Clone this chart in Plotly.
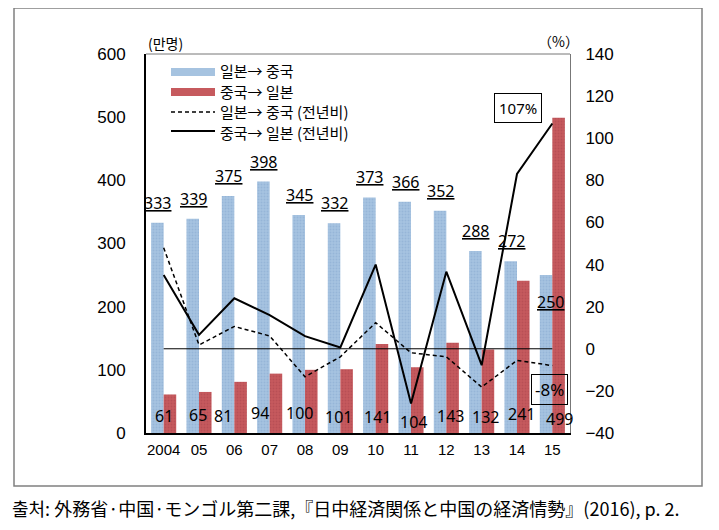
import plotly.graph_objects as go

years = ["2004", "05", "06", "07", "08", "09", "10", "11", "12", "13", "14", "15"]
jp_to_cn = [333, 339, 375, 398, 345, 332, 373, 366, 352, 288, 272, 250]
cn_to_jp = [61, 65, 81, 94, 100, 101, 141, 104, 143, 132, 241, 499]
jp_to_cn_yoy = [48.0, 1.8, 10.6, 6.1, -13.3, -3.8, 12.4, -1.9, -3.8, -18.2, -5.5, -8.0]
cn_to_jp_yoy = [35.0, 6.6, 24.0, 16.0, 6.0, 0.6, 40.0, -26.0, 36.6, -7.8, 83.0, 107.0]
zero_ref = [0] * len(years)

legend_labels = ["일본→ 중국", "중국→ 일본", "일본→ 중국 (전년비)", "중국→ 일본 (전년비)"]
unit_left = "(만명)"
unit_right = "（%）"
box_hi = "107%"
box_lo = "-8%"
source_text = "출처: 外務省·中国·モンゴル第二課,『日中経済関係と中国の経済情勢』(2016), p. 2."

# page body has an 8px default margin; figure is sized to fit the 719x530 window
OFF = 8
W, H = 719 - 2 * OFF, 530 - 2 * OFF
# plot area in page pixels
L, R, T, B = 146, 570, 54, 433
def px(xp):
    return (xp - L) / (R - L)
def py(yp):
    return (B - yp) / (B - T)

BLUE_BG, BLUE_FG = "#a6c3e0", "#86a8d0"
RED_BG, RED_FG = "#c65a5e", "#a9434b"

fig = go.Figure()
fig.add_trace(go.Bar(x=years, y=jp_to_cn, name=legend_labels[0],
                     marker=dict(color=BLUE_BG, line=dict(width=0),
                                 pattern=dict(shape=".", fgcolor=BLUE_FG, bgcolor=BLUE_BG, size=3, solidity=0.35)),
                     yaxis="y"))
fig.add_trace(go.Bar(x=years, y=cn_to_jp, name=legend_labels[1],
                     marker=dict(color=RED_BG, line=dict(width=0),
                                 pattern=dict(shape=".", fgcolor=RED_FG, bgcolor=RED_BG, size=3, solidity=0.35)),
                     yaxis="y"))
fig.add_trace(go.Scatter(x=years, y=zero_ref, mode="lines", line=dict(color="black", width=1),
                         yaxis="y2", showlegend=False))
fig.add_trace(go.Scatter(x=years, y=jp_to_cn_yoy, mode="lines", name=legend_labels[2],
                         line=dict(color="black", width=1.5, dash="4px,3px"), yaxis="y2"))
fig.add_trace(go.Scatter(x=years, y=cn_to_jp_yoy, mode="lines", name=legend_labels[3],
                         line=dict(color="black", width=2), yaxis="y2"))

num_font = dict(family="Noto Sans, sans-serif", size=16, color="black")
ann = []
# blue bar labels (underlined), above each blue bar; x given as category index
for i, v in enumerate(jp_to_cn):
    if i == len(years) - 1:
        ann.append(dict(x=i, y=v, xref="x", yref="y", text="<u>%d</u>" % v, showarrow=False,
                        xshift=-2, yshift=-27, font=num_font, yanchor="middle"))
    else:
        ann.append(dict(x=i, y=v, xref="x", yref="y", text="<u>%d</u>" % v, showarrow=False,
                        xshift=-6, yshift=7, font=num_font, yanchor="bottom"))
# red bar labels near the bottom
red_xshift = [0, -1, -11, -10, -6, -2, 2, 2, 4, 4, 4, 7]
red_ypix = [416, 415, 416, 413, 413, 417, 417, 422, 416, 417, 414, 419]
for i, (v, xs, yp) in enumerate(zip(cn_to_jp, red_xshift, red_ypix)):
    ann.append(dict(x=i, y=py(yp), xref="x", yref="paper", text=str(v), showarrow=False,
                    xshift=xs, font=num_font, yanchor="middle"))

ann.append(dict(x=px(146), y=py(43), xref="paper", yref="paper", text=unit_left, showarrow=False,
                xanchor="left", yanchor="middle",
                font=dict(family="Noto Sans CJK KR", size=14, color="black")))
ann.append(dict(x=px(558), y=py(41), xref="paper", yref="paper", text=unit_right, showarrow=False,
                xanchor="center", yanchor="middle",
                font=dict(family="Noto Sans CJK KR", size=14, color="black")))
ann.append(dict(x=px(517.5), y=py(107.5), xref="paper", yref="paper", text=box_hi, showarrow=False,
                xanchor="center", yanchor="middle", bordercolor="black", borderwidth=1, borderpad=4,
                bgcolor="white", font=dict(family="Noto Sans", size=15, color="black")))
ann.append(dict(x=px(549.5), y=py(389.5), xref="paper", yref="paper", text=box_lo, showarrow=False,
                xanchor="center", yanchor="middle", bordercolor="black", borderwidth=1, borderpad=3,
                font=dict(family="Noto Sans", size=17, color="black")))
ann.append(dict(x=px(10), y=py(508), xref="paper", yref="paper", text=source_text, showarrow=False,
                xanchor="left", yanchor="middle",
                font=dict(family="Noto Sans CJK JP", size=18, color="black")))

# custom legend
shapes = []
leg_y = [71, 91, 111, 132]
shapes.append(dict(type="rect", xref="paper", yref="paper", x0=px(171), x1=px(215),
                   y0=py(76), y1=py(68), fillcolor=BLUE_BG, line=dict(width=0)))
shapes.append(dict(type="rect", xref="paper", yref="paper", x0=px(171), x1=px(215),
                   y0=py(96), y1=py(88), fillcolor=RED_BG, line=dict(width=0)))
shapes.append(dict(type="line", xref="paper", yref="paper", x0=px(171), x1=px(215),
                   y0=py(112), y1=py(112), line=dict(color="black", width=1.5, dash="4px,3px")))
shapes.append(dict(type="line", xref="paper", yref="paper", x0=px(171), x1=px(215),
                   y0=py(131), y1=py(131), line=dict(color="black", width=2)))
for lab, yp in zip(legend_labels, leg_y):
    ann.append(dict(x=px(218), y=py(yp), xref="paper", yref="paper", text=lab, showarrow=False,
                    xanchor="left", yanchor="middle",
                    font=dict(family="Noto Sans CJK KR", size=15, color="black")))
# top border of plot area (gray)
shapes.append(dict(type="line", xref="paper", yref="paper", x0=0, x1=1, y0=1, y1=1,
                   line=dict(color="#777777", width=1)))
# outer frame
shapes.append(dict(type="rect", xref="paper", yref="paper", x0=px(14), x1=px(702),
                   y0=py(486), y1=py(8), line=dict(color="#808080", width=1.5)))

fig.update_layout(
    width=W, height=H,
    margin=dict(l=L - OFF, r=W - (R - OFF), t=T - OFF, b=H - (B - OFF), autoexpand=False),
    paper_bgcolor="white", plot_bgcolor="white",
    barmode="group", bargap=0.29, bargroupgap=0,
    showlegend=False,
    font=dict(family="Liberation Sans, Arial, sans-serif", color="black"),
    xaxis=dict(type="category", range=[-0.5, len(years) - 0.5], autorange=False,
               showline=True, linecolor="black", linewidth=2,
               showgrid=False, ticks="", tickfont=dict(size=15), ticklabelstandoff=2),
    yaxis=dict(range=[0, 600], dtick=100, showline=True, linecolor="black", linewidth=2,
               showgrid=False, zeroline=False, ticks="", tickfont=dict(size=17),
               ticklabelstandoff=15),
    yaxis2=dict(range=[-40, 140], dtick=20, overlaying="y", side="right", showline=True,
                linecolor="#777777", linewidth=1, showgrid=False, zeroline=False, ticks="",
                tickfont=dict(size=17), ticklabelstandoff=11),
    annotations=ann, shapes=shapes,
)

fig.write_html("out.html")
